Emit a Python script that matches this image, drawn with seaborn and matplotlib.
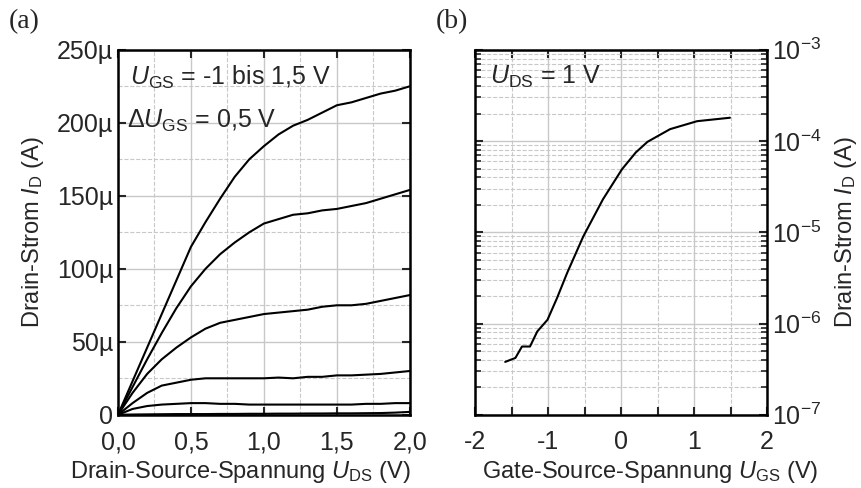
import numpy as np
import pandas as pd
import seaborn as sns
import matplotlib.pyplot as plt
from matplotlib.ticker import FixedLocator, FixedFormatter, LogLocator, NullFormatter

# output characteristics, I_D in µA, one list per U_GS
vds = [0, 0.1, 0.2, 0.3, 0.4, 0.5, 0.6, 0.7, 0.8, 0.9, 1.0,
       1.1, 1.2, 1.3, 1.4, 1.5, 1.6, 1.7, 1.8, 1.9, 2.0]
id_p15 = [0, 23, 46, 69, 92, 115, 132, 148, 163, 175, 184, 192, 198, 202, 207, 212, 214, 217, 220, 222, 225]
id_p10 = [0, 19, 38, 56, 73, 88, 100, 110, 118, 125, 131, 134, 137, 138, 140, 141, 143, 145, 148, 151, 154]
id_p05 = [0, 15, 28, 38, 46, 53, 59, 63, 65, 67, 69, 70, 71, 72, 74, 75, 75, 76, 78, 80, 82]
id_p00 = [0, 8, 15, 20, 22, 24, 25, 25, 25, 25, 25, 25.5, 25, 26, 26, 27, 27, 27.5, 28, 29, 30]
id_m05 = [0, 4, 6, 7, 7.5, 8, 8, 7.5, 7.5, 7, 7, 7, 7, 7, 7, 7, 7, 7.5, 7.5, 8, 8]
id_m10 = [0, 0.2, 0.3, 0.4, 0.5, 0.5, 0.5, 0.6, 0.6, 0.7, 0.7, 0.8, 0.8, 0.9, 0.9, 1.0, 1.0, 1.1, 1.2, 1.5, 2.0]
ugs_labels = ["1,5", "1,0", "0,5", "0", "-0,5", "-1"]

# transfer characteristic at U_DS = 1 V
vgs = [-1.59, -1.45, -1.36, -1.25, -1.15, -1.01, -0.88, -0.74, -0.52,
       -0.25, 0.01, 0.2, 0.36, 0.67, 1.04, 1.49]
id_transfer = [3.8e-7, 4.2e-7, 5.6e-7, 5.6e-7, 8.2e-7, 1.1e-6, 1.9e-6, 3.6e-6, 9e-6,
               2.3e-5, 4.9e-5, 7.5e-5, 9.8e-5, 1.35e-4, 1.65e-4, 1.8e-4]

xticks_a = [0.0, 0.5, 1.0, 1.5, 2.0]
xticklabels_a = ["0,0", "0,5", "1,0", "1,5", "2,0"]
yticks_a = [0, 50e-6, 100e-6, 150e-6, 200e-6, 250e-6]
yticklabels_a = ["0", "50µ", "100µ", "150µ", "200µ", "250µ"]
xticks_b = [-2, -1, 0, 1, 2]

sns.set_style("ticks")
plt.rcParams["font.family"] = ["Liberation Sans", "DejaVu Sans"]
plt.rcParams["mathtext.fontset"] = "custom"
plt.rcParams["mathtext.rm"] = "Liberation Sans"
plt.rcParams["mathtext.it"] = "Liberation Sans:italic"
plt.rcParams["mathtext.bf"] = "Liberation Sans:bold"
plt.rcParams["axes.unicode_minus"] = False

FS = 18      # tick labels and annotations
FL = 17      # axis labels
grid_major = dict(color="#c8c8c8", linestyle="-", linewidth=1.0)
grid_minor = dict(color="#c8c8c8", linestyle="--", linewidth=0.8)

fig = plt.figure(figsize=(8.61, 4.88), dpi=100)
ax1 = fig.add_axes([0.137, 0.150, 0.339, 0.748])
ax2 = fig.add_axes([0.552, 0.150, 0.339, 0.748])

# (a) output characteristics
curves = pd.DataFrame({"vds": vds * 6,
                       "id": np.concatenate([id_p15, id_p10, id_p05, id_p00, id_m05, id_m10]) * 1e-6,
                       "ugs": np.repeat(ugs_labels, len(vds))})
sns.lineplot(data=curves, x="vds", y="id", hue="ugs", palette=["black"] * 6,
             linewidth=1.5, legend=False, ax=ax1)
ax1.set_xlim(0, 2.0)
ax1.set_ylim(0, 250e-6)
ax1.xaxis.set_major_locator(FixedLocator(xticks_a))
ax1.xaxis.set_major_formatter(FixedFormatter(xticklabels_a))
ax1.yaxis.set_major_locator(FixedLocator(yticks_a))
ax1.yaxis.set_major_formatter(FixedFormatter(yticklabels_a))
ax1.xaxis.set_minor_locator(FixedLocator(np.arange(0.25, 2.0, 0.5)))
ax1.yaxis.set_minor_locator(FixedLocator(np.arange(25e-6, 250e-6, 50e-6)))
ax1.grid(True, which="major", **grid_major)
ax1.grid(True, which="minor", **grid_minor)
ax1.tick_params(which="major", direction="in", length=6, width=1.5,
                top=True, right=True, labelsize=FS)
ax1.tick_params(axis="x", which="major", pad=11)
ax1.tick_params(which="minor", length=0)
ax1.set_xlabel(r"Drain-Source-Spannung $\mathit{U}_\mathrm{DS}$ (V)", fontsize=FL)
ax1.xaxis.set_label_coords(0.42, -0.12)
ax1.set_ylabel(r"Drain-Strom $\mathit{I}_\mathrm{D}$ (A)", fontsize=FL, labelpad=8)
ax1.text(0.04, 0.925, r"$\mathit{U}_\mathrm{GS}$ = -1 bis 1,5 V", transform=ax1.transAxes,
         fontsize=FS, va="center")
ax1.text(0.03, 0.805, r"Δ$\mathit{U}_\mathrm{GS}$ = 0,5 V", transform=ax1.transAxes,
         fontsize=FS, va="center")

# (b) transfer characteristic
sns.lineplot(x=vgs, y=id_transfer, color="black", linewidth=1.5, ax=ax2)
ax2.set_yscale("log")
ax2.set_xlim(-2, 2)
ax2.set_ylim(1e-7, 1e-3)
ax2.xaxis.set_major_locator(FixedLocator(xticks_b))
ax2.xaxis.set_minor_locator(FixedLocator([-1.5, -0.5, 0.5, 1.5]))
ax2.yaxis.set_major_locator(LogLocator(base=10, numticks=10))
ax2.yaxis.set_minor_locator(LogLocator(base=10, subs=np.arange(2, 10), numticks=10))
ax2.yaxis.set_minor_formatter(NullFormatter())
ax2.yaxis.tick_right()
ax2.yaxis.set_label_position("right")
ax2.grid(True, which="major", **grid_major)
ax2.grid(True, which="minor", **grid_minor)
ax2.tick_params(which="major", direction="in", length=6, width=1.5,
                top=True, left=True, right=True, labelsize=FS,
                labelleft=False, labelright=True)
ax2.tick_params(axis="x", which="major", pad=11)
ax2.tick_params(which="minor", direction="in", length=4, width=1.2,
                top=True, left=True, right=True)
ax2.tick_params(axis="x", which="minor", length=6, width=1.5)
ax2.set_xlabel(r"Gate-Source-Spannung $\mathit{U}_\mathrm{GS}$ (V)", fontsize=FL)
ax2.xaxis.set_label_coords(0.60, -0.12)
ax2.set_ylabel(r"Drain-Strom $\mathit{I}_\mathrm{D}$ (A)", fontsize=FL, labelpad=8)
ax2.text(0.05, 0.925, r"$\mathit{U}_\mathrm{DS}$ = 1 V", transform=ax2.transAxes,
         fontsize=FS, va="center")

for ax in (ax1, ax2):
    for sp in ax.spines.values():
        sp.set_linewidth(1.8)
        sp.set_color("black")

fig.text(0.010, 0.955, "(a)", fontsize=20, family="Liberation Serif", va="center")
fig.text(0.506, 0.955, "(b)", fontsize=20, family="Liberation Serif", va="center")

fig.savefig("out.png", dpi=100)
